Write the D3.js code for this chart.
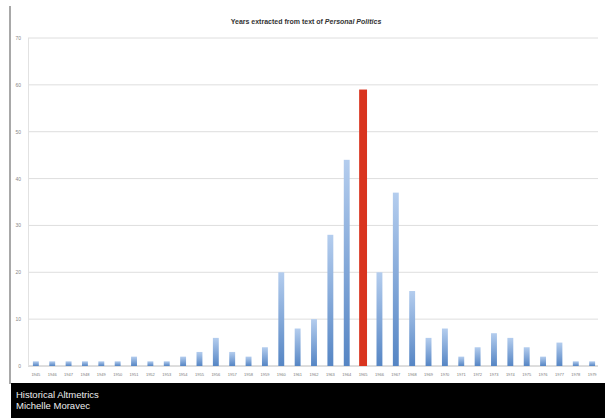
<!DOCTYPE html>
<html><head><meta charset="utf-8">
<script src="https://cdn.jsdelivr.net/npm/d3@7"></script>
<style>
html,body{margin:0;padding:0;background:#fff;}
svg{display:block;}
</style></head>
<body>
<svg id="chart" width="605" height="418"></svg>
<script>
const years = ["1945","1946","1947","1948","1949","1950","1951","1952","1953","1954","1955","1956","1957","1958","1959","1960","1961","1962","1963","1964","1965","1966","1967","1968","1969","1970","1971","1972","1973","1974","1975","1976","1977","1978","1979"];
const counts = [1,1,1,1,1,1,2,1,1,2,3,6,3,2,4,20,8,10,28,44,59,20,37,16,6,8,2,4,7,6,4,2,5,1,1];
const highlightYear = "1965";
const yTicks = [0,10,20,30,40,50,60,70];
const titleText = "Years extracted from text of ";
const titleItalic = "Personal Politics";
const creditLines = ["Historical Altmetrics","Michelle Moravec"];

const svg = d3.select("#chart");
const W = 605, H = 418;
const m = {left: 28, right: 5, top: 38, bottom: 52};
const plotBottom = 366, plotTop = 38;

const x = d3.scaleBand().domain(years).range([28, 600]).paddingInner(0.64).paddingOuter(0.3);
const y = d3.scaleLinear().domain([0,70]).range([plotBottom, plotTop]);

const defs = svg.append("defs");
const g1 = defs.append("linearGradient").attr("id","blueGrad").attr("x1",0).attr("y1",0).attr("x2",0).attr("y2",1);
g1.append("stop").attr("offset","0%").attr("stop-color","#b4cdee");
g1.append("stop").attr("offset","100%").attr("stop-color","#5585c4");

// left frame line
svg.append("line").attr("x1",10).attr("x2",10).attr("y1",6).attr("y2",384)
  .attr("stroke","#a8a8a8").attr("stroke-width",2);

// title
const t = svg.append("text").attr("x",306).attr("y",24).attr("text-anchor","middle")
  .attr("font-family","Liberation Sans, Arial, sans-serif").attr("font-size",7).attr("font-weight","bold").attr("fill","#333");
t.append("tspan").text(titleText);
t.append("tspan").attr("font-style","italic").text(titleItalic);

// gridlines
svg.append("g").selectAll("line").data(yTicks).join("line")
  .attr("x1",28).attr("x2",598).attr("y1",d=>y(d)).attr("y2",d=>y(d))
  .attr("stroke",d=>d===0?"#bcbcbc":"#dedede").attr("stroke-width",1);

// y axis line
svg.append("line").attr("x1",28.5).attr("x2",28.5).attr("y1",plotTop).attr("y2",plotBottom).attr("stroke","#e2e2e2");

// y labels
svg.append("g").selectAll("text").data(yTicks).join("text")
  .attr("x",21).attr("y",d=>y(d)+2).attr("text-anchor","end")
  .attr("font-family","Liberation Sans, Arial, sans-serif").attr("font-size",5).attr("fill","#888")
  .text(d=>d);

// bars
svg.append("g").selectAll("rect").data(years).join("rect")
  .attr("x",(d)=> d===highlightYear ? x(d)-1 : x(d))
  .attr("width",(d)=> d===highlightYear ? x.bandwidth()+2 : x.bandwidth())
  .attr("y",(d,i)=>y(counts[i]))
  .attr("height",(d,i)=>plotBottom - y(counts[i]))
  .attr("fill",d=> d===highlightYear ? "#d9341f" : "url(#blueGrad)");

// x labels
svg.append("g").selectAll("text").data(years).join("text")
  .attr("x",d=>x(d)+x.bandwidth()/2).attr("y",376).attr("text-anchor","middle")
  .attr("font-family","Liberation Sans, Arial, sans-serif").attr("font-size",4).attr("fill","#777")
  .text(d=>d);

// bottom black bar
svg.append("rect").attr("x",11).attr("y",383).attr("width",W-11).attr("height",H-383).attr("fill","#000");
svg.append("g").selectAll("text").data(creditLines).join("text")
  .attr("x",16).attr("y",(d,i)=>398+i*11)
  .attr("font-family","Liberation Sans, Arial, sans-serif").attr("font-size",9.5).attr("fill","#eee")
  .text(d=>d);
</script>
</body></html>
